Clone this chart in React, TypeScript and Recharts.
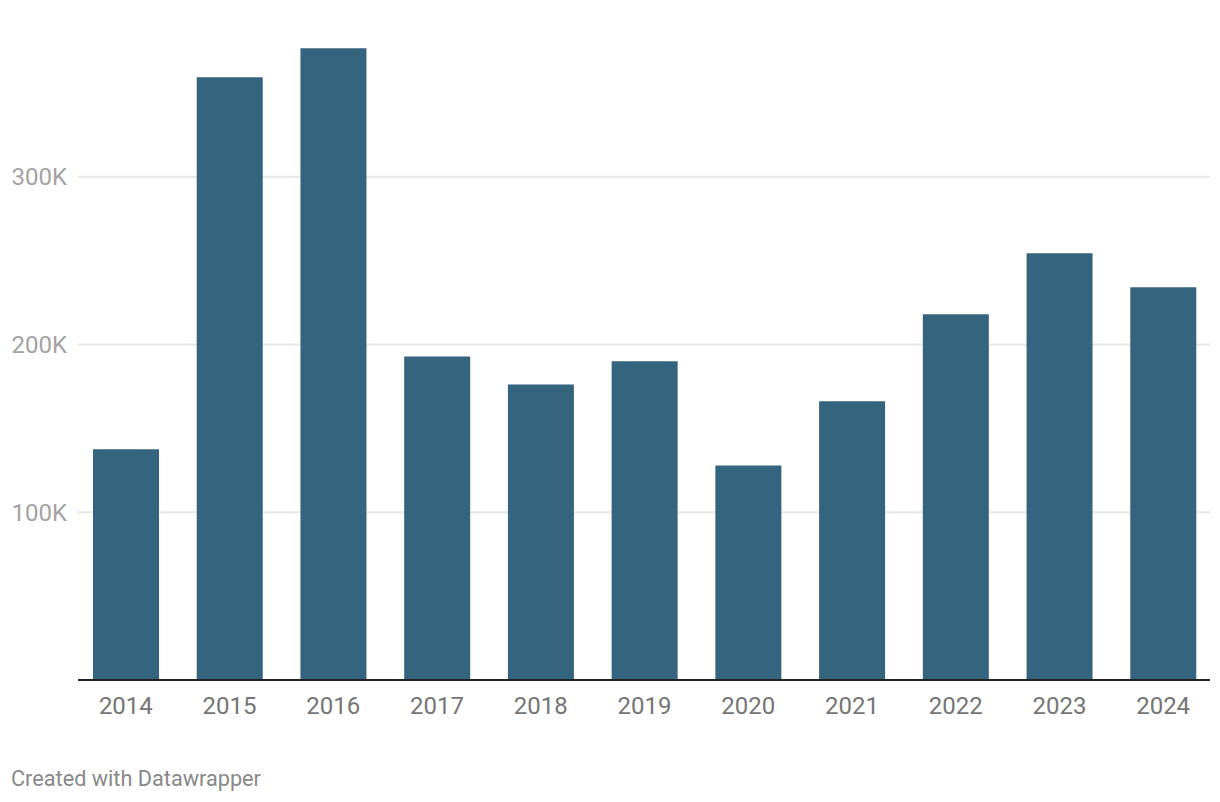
import React from "react";
import { BarChart, Bar, XAxis, YAxis, CartesianGrid } from "recharts";

const years = ["2014", "2015", "2016", "2017", "2018", "2019", "2020", "2021", "2022", "2023", "2024"];
const values = [137500, 359300, 376600, 192900, 176200, 190000, 127900, 166100, 218000, 254400, 234100];
const yTicks = [100000, 200000, 300000];

const data = years.map((y, i) => ({ year: y, value: values[i] }));

const fmt = (v: number) => `${Math.round(v / 1000)}K`;

export default function App() {
  return (
    <div style={{ position: "absolute", left: 0, top: 0, width: 1220, height: 802, background: "#fff", fontFamily: "Roboto, sans-serif" }}>
      <BarChart
        width={1220}
        height={740}
        data={data}
        margin={{ top: 9, right: 10, bottom: 0, left: 0 }}
      >
        <CartesianGrid vertical={false} stroke="#e6e6e6" strokeWidth={2} horizontalValues={yTicks} />
        <XAxis
          dataKey="year"
          padding={{ left: -4, right: -5 }}
          axisLine={{ stroke: "#222", strokeWidth: 2 }}
          tickLine={false}
          tickSize={0}
          tickMargin={17}
          height={60}
          interval={0}
          tick={{ fill: "#757575", fontSize: 24, fontFamily: "Roboto" }}
        />
        <YAxis
          domain={[0, 400000]}
          ticks={yTicks}
          tickFormatter={fmt}
          axisLine={false}
          tickLine={false}
          tickSize={0}
          tickMargin={11}
          width={78}
          tick={{ fill: "#a3a3a3", fontSize: 24, fontFamily: "Roboto" }}
        />
        <Bar dataKey="value" fill="#35647f" barSize={66} isAnimationActive={false} />
      </BarChart>
      <div
        style={{
          position: "absolute",
          left: 11,
          top: 768,
          fontSize: 21.7,
          lineHeight: 1,
          color: "#888",
          fontFamily: "Roboto, sans-serif",
          whiteSpace: "nowrap",
        }}
      >
        Created with Datawrapper
      </div>
    </div>
  );
}
